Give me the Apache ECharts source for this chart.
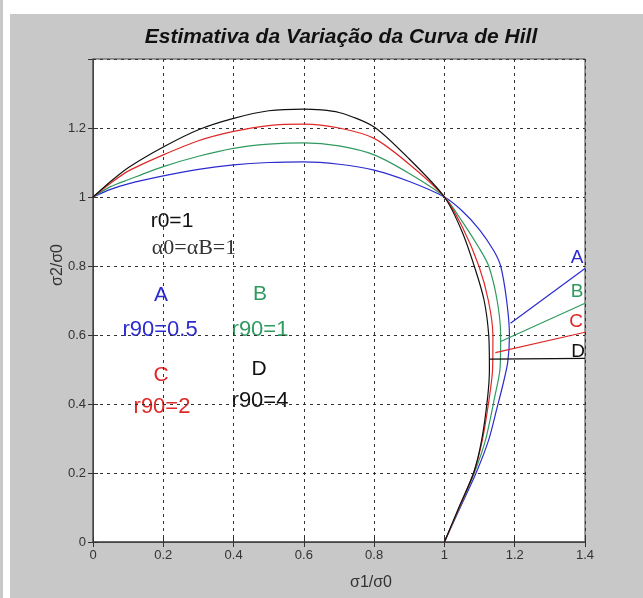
<!DOCTYPE html>
<html><head><meta charset="utf-8">
<script src="https://cdn.jsdelivr.net/npm/echarts@6/dist/echarts.min.js"></script>
<style>html,body{margin:0;padding:0;background:#fff}#c{width:643px;height:598px}</style>
</head><body><div id="c"></div>
<script>
// Curves (sigma1/sigma0, sigma2/sigma0)
const curveA = [[0,1],[0.05,1.022],[0.1,1.038],[0.2,1.061],[0.3,1.08],[0.4,1.093],[0.5,1.1],[0.6,1.102],[0.7,1.095],[0.8,1.078],[0.9,1.045],[1.0,1.0],[1.05,0.96],[1.1,0.905],[1.14,0.845],[1.16,0.8],[1.177,0.7],[1.185,0.6],[1.18,0.52],[1.165,0.45],[1.15,0.39],[1.126,0.296],[1.09,0.2],[1.045,0.1],[1.0,0]];
const curveB = [[0,1],[0.05,1.03],[0.1,1.05],[0.2,1.088],[0.3,1.118],[0.4,1.141],[0.5,1.153],[0.6,1.157],[0.7,1.148],[0.8,1.122],[0.9,1.068],[1.0,1.0],[1.05,0.93],[1.1,0.85],[1.126,0.8],[1.15,0.7],[1.16,0.6],[1.158,0.5],[1.143,0.42],[1.117,0.296],[1.085,0.2],[1.043,0.1],[1.0,0]];
const curveC = [[0,1],[0.05,1.04],[0.1,1.075],[0.2,1.122],[0.3,1.163],[0.4,1.19],[0.5,1.207],[0.6,1.211],[0.7,1.2],[0.8,1.17],[0.9,1.095],[1.0,1.0],[1.05,0.915],[1.098,0.8],[1.125,0.7],[1.138,0.6],[1.137,0.5],[1.128,0.42],[1.108,0.296],[1.083,0.2],[1.042,0.1],[1.0,0]];
const curveD = [[0,1],[0.05,1.045],[0.1,1.085],[0.2,1.145],[0.3,1.195],[0.4,1.228],[0.5,1.25],[0.6,1.255],[0.7,1.245],[0.8,1.203],[0.9,1.11],[1.0,1.0],[1.05,0.9],[1.088,0.79],[1.113,0.7],[1.126,0.6],[1.128,0.5],[1.123,0.42],[1.106,0.296],[1.083,0.2],[1.041,0.1],[1.0,0]];
const lineA = [[1.188,0.634],[1.4,0.793]];
const lineB = [[1.16,0.581],[1.4,0.692]];
const lineC = [[1.145,0.549],[1.4,0.608]];
const lineD = [[1.128,0.53],[1.4,0.532]];
const xTicks = [0,0.2,0.4,0.6,0.8,1,1.2,1.4];
const yTicks = [0,0.2,0.4,0.6,0.8,1,1.2];
const titleText = 'Estimativa da Variação da Curva de Hill';

const BLUE='#2b2bd0', GREEN='#2f9a60', RED='#e02828', BLACK='#111111';
const chart = echarts.init(document.getElementById('c'));
const fmt = v => String(Math.round(v*10)/10);
const gridLine = {show:true, lineStyle:{color:'#333', type:[3,4], width:1}};
const baseX = {type:'value', min:0, max:1.4, interval:0.2};
const baseY = {type:'value', min:0, max:1.4, interval:0.2};
function mkSeries(d,c,w){return {type:'line',data:d,showSymbol:false,smooth:0.25,lineStyle:{color:c,width:w||1.2},itemStyle:{color:c},silent:true,animation:false};}
function mkLine(d,c){return {type:'line',data:d,showSymbol:false,lineStyle:{color:c,width:1.2},silent:true,animation:false};}
const txt=(x,y,t,c,f,extra)=>Object.assign({type:'text',x:x,y:y,style:{text:t,fill:c,font:f,textAlign:'center',textVerticalAlign:'middle'}},extra||{});
chart.setOption({
  backgroundColor:'#ffffff',
  animation:false,
  grid:{left:93,top:59,right:58,bottom:56,show:true,backgroundColor:'#ffffff',borderColor:'#444',borderWidth:1},
  xAxis:[
    Object.assign({},baseX,{position:'bottom',axisLine:{show:true,lineStyle:{color:'#555',width:1.5}},axisTick:{show:true,inside:true,length:5,lineStyle:{color:'#333'}},
      axisLabel:{color:'#333',fontFamily:'Liberation Sans Narrow, Liberation Sans, Arial',fontSize:13,margin:7,formatter:fmt},splitLine:gridLine}),
    Object.assign({},baseX,{position:'top',axisLine:{show:true,lineStyle:{color:'#444'}},axisTick:{show:true,inside:true,length:5,lineStyle:{color:'#333'}},axisLabel:{show:false},splitLine:{show:false}})
  ],
  yAxis:[
    Object.assign({},baseY,{position:'left',axisLine:{show:true,lineStyle:{color:'#666',width:1.5}},axisTick:{show:true,inside:true,length:5,lineStyle:{color:'#333'}},
      axisLabel:{color:'#333',fontFamily:'Liberation Sans Narrow, Liberation Sans, Arial',fontSize:13,margin:7,showMaxLabel:false,formatter:fmt},splitLine:gridLine}),
    Object.assign({},baseY,{position:'right',axisLine:{show:true,lineStyle:{color:'#444'}},axisTick:{show:true,inside:true,length:5,lineStyle:{color:'#333'}},axisLabel:{show:false},splitLine:{show:false}})
  ],
  series:[
    mkSeries(curveA,BLUE), mkSeries(curveB,GREEN), mkSeries(curveC,RED), mkSeries(curveD,BLACK),
    mkLine(lineA,BLUE), mkLine(lineB,GREEN), mkLine(lineC,RED), mkLine(lineD,BLACK)
  ],
  graphic:[
    {type:'rect',z:-10,shape:{x:0,y:0,width:3,height:598},style:{fill:'#c8c8c8'},silent:true},
    {type:'rect',z:-10,shape:{x:10,y:14,width:633,height:584},style:{fill:'#c8c8c8'},silent:true},
    txt(341,37,titleText,'#111','italic bold 21px "Liberation Sans", Arial'),
    txt(58,265,'σ2/σ0','#333','16px "Liberation Sans", Arial',{rotation:Math.PI/2}),
    txt(371,583,'σ1/σ0','#333','16px "Liberation Sans", Arial'),
    txt(172,221,'r0=1',BLACK,'21px "Liberation Sans", Arial'),
    txt(194,248,'α0=αB=1','#333','22px "Liberation Serif", "Times New Roman"'),
    txt(161,295,'A',BLUE,'21px "Liberation Sans", Arial'),
    txt(160,330,'r90=0.5',BLUE,'22px "Liberation Sans", Arial'),
    txt(260,294,'B',GREEN,'21px "Liberation Sans", Arial'),
    txt(260,330,'r90=1',GREEN,'22px "Liberation Sans", Arial'),
    txt(161,375,'C',RED,'21px "Liberation Sans", Arial'),
    txt(162,407,'r90=2',RED,'22px "Liberation Sans", Arial'),
    txt(259,369,'D',BLACK,'21px "Liberation Sans", Arial'),
    txt(260,401,'r90=4',BLACK,'22px "Liberation Sans", Arial'),
    txt(577,258,'A',BLUE,'19px "Liberation Sans", Arial'),
    txt(577,292,'B',GREEN,'19px "Liberation Sans", Arial'),
    txt(576,322,'C',RED,'19px "Liberation Sans", Arial'),
    txt(578,352,'D',BLACK,'19px "Liberation Sans", Arial')
  ]
});
</script></body></html>
